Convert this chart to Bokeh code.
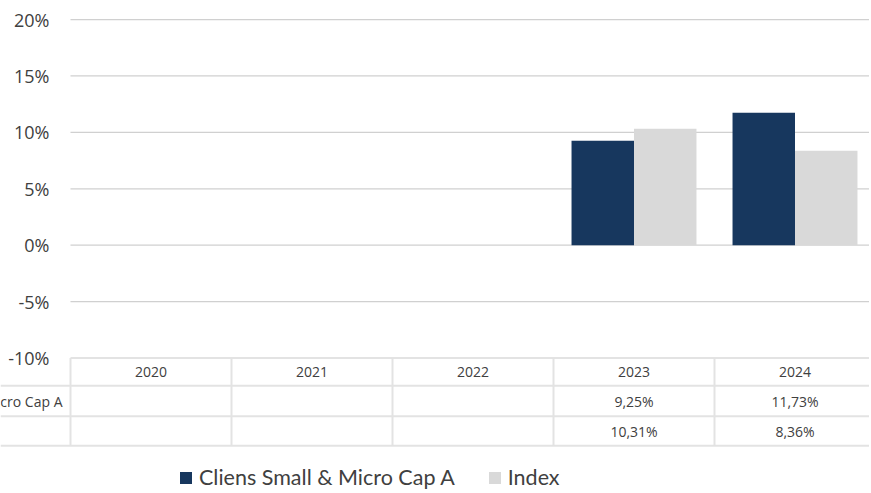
from bokeh.plotting import figure
from bokeh.models import Range1d, Legend, LegendItem
from bokeh.core.properties import value
from bokeh.embed import file_html
from bokeh.resources import INLINE

# ---- data ----
years = ["2020", "2021", "2022", "2023", "2024"]
fund_name = "Cliens Small & Micro Cap A"
index_name = "Index"
fund = [None, None, None, 9.25, 11.73]
index = [None, None, None, 10.31, 8.36]
y_ticks = [-10, -5, 0, 5, 10, 15, 20]
y_tick_labels = ["-10%", "-5%", "0%", "5%", "10%", "15%", "20%"]

# ---- layout constants (pixels) ----
W, H = 869, 491
PX_X = 161.0          # px per category
X0 = 70.0             # x of first category edge
PX_Y = 11.283         # px per percent
Y0 = 244.7            # y of 0%

def dy(px):
    return px / PX_Y

DARK = "#17375e"
LIGHT = "#d9d9d9"
GRID = "#d0d0d0"
TABLE = "#e3e3e3"
TXT = "#404040"

p = figure(width=W, height=H,
           x_range=Range1d(-X0 / PX_X, (W - X0) / PX_X),
           y_range=Range1d((Y0 - H) / PX_Y, Y0 / PX_Y),
           output_backend="svg", toolbar_location=None, min_border=0)
p.axis.visible = False
p.grid.visible = False
p.outline_line_color = None
p.background_fill_color = "white"

n = len(years)
xs_start = p.x_range.start

# gridlines (above -10)
g_ticks = [t for t in y_ticks if t != y_ticks[0]]
p.segment(x0=[0] * len(g_ticks), x1=[n] * len(g_ticks), y0=g_ticks, y1=g_ticks,
          line_color=GRID, line_width=1.3)

# table geometry
row_h = [dy(27.8), dy(30.4), dy(29.6)]
bounds = [y_ticks[0]]
for h in row_h:
    bounds.append(bounds[-1] - h)
centers = [(bounds[i] + bounds[i + 1]) / 2 for i in range(3)]

# table lines
p.segment(x0=[0], x1=[n], y0=[bounds[0]], y1=[bounds[0]], line_color=TABLE, line_width=2)
p.segment(x0=[xs_start] * 3, x1=[n] * 3, y0=bounds[1:], y1=bounds[1:],
          line_color=TABLE, line_width=2)
p.segment(x0=list(range(n + 1)), x1=list(range(n + 1)),
          y0=[bounds[0]] * (n + 1), y1=[bounds[-1]] * (n + 1),
          line_color=TABLE, line_width=2)

# bars
bw = 0.388
fx = [i + 0.5 - bw / 2 for i, v in enumerate(fund) if v is not None]
fv = [v for v in fund if v is not None]
ix = [i + 0.5 + bw / 2 for i, v in enumerate(index) if v is not None]
iv = [v for v in index if v is not None]
r1 = p.vbar(x=fx, top=fv, bottom=0, width=bw, fill_color=DARK, line_color=None)
r2 = p.vbar(x=ix, top=iv, bottom=0, width=bw, fill_color=LIGHT, line_color=None)

# y tick labels
p.text(x=[0] * len(y_ticks), y=y_ticks, text=y_tick_labels, x_offset=-21,
       text_align="right", text_baseline="middle", text_font=value("Open Sans"),
       text_font_size="18px", text_color=TXT)

def fmt(v):
    return "" if v is None else f"{v:.2f}".replace(".", ",") + "%"

cx = [i + 0.5 for i in range(n)]
p.text(x=cx, y=[centers[0]] * n, text=years, text_align="center", text_baseline="middle",
       text_font=value("Open Sans"), text_font_size="14px", text_color=TXT)
p.text(x=cx, y=[centers[1]] * n, text=[fmt(v) for v in fund], text_align="center",
       text_baseline="middle", text_font=value("Open Sans"), text_font_size="14px", text_color=TXT)
p.text(x=cx, y=[centers[2]] * n, text=[fmt(v) for v in index], text_align="center",
       text_baseline="middle", text_font=value("Open Sans"), text_font_size="14px", text_color=TXT)
# row label (only the fund row shows a label in the reference)
p.text(x=[0], y=[centers[1]], text=[fund_name], x_offset=-8, text_align="right",
       text_baseline="middle", text_font=value("Open Sans"), text_font_size="14px", text_color=TXT)

legend = Legend(items=[LegendItem(label=fund_name, renderers=[r1]),
                       LegendItem(label=index_name, renderers=[r2])],
                location=(178, 1), orientation="horizontal",
                glyph_width=15, glyph_height=15, label_standoff=6, spacing=32,
                padding=0, margin=0, border_line_alpha=0, background_fill_alpha=0,
                label_text_font="Lato", label_text_font_size="21.5px", label_text_color=TXT,
                label_height=22)
p.add_layout(legend)

open("out.html", "w").write(file_html(p, INLINE))
